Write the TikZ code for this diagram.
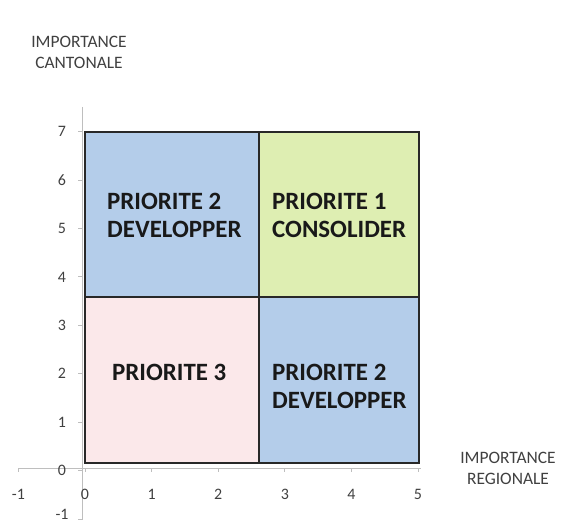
\documentclass[tikz,border=0pt]{standalone}
\usepackage{fontspec}
\setmainfont{Carlito}
\definecolor{boxblue}{RGB}{180,205,234}
\definecolor{boxgreen}{RGB}{222,238,178}
\definecolor{boxpink}{RGB}{251,232,234}
\definecolor{axisgray}{RGB}{190,190,190}
\definecolor{labgray}{RGB}{64,64,64}
\definecolor{edge}{RGB}{40,40,40}
\begin{document}
\begin{tikzpicture}[x=1bp,y=-1bp,
  quad/.style={draw=edge,line width=1.6bp},
  quadtext/.style={font=\fontsize{25}{28}\selectfont\bfseries,text=black!90,align=left,anchor=west,inner sep=0pt},
  axtitle/.style={font=\fontsize{17.5}{21}\selectfont,text=labgray,align=center,inner sep=0pt},
  ticklab/.style={font=\fontsize{16}{18}\selectfont,text=labgray,inner sep=0pt},
  axisline/.style={draw=axisgray,line width=1bp}]
\useasboundingbox (0,0) rectangle (569,524);
% axes
\coordinate (xa) at (18,468);
\coordinate (xb) at (421,468);
\coordinate (ya) at (82.5,107);
\coordinate (yb) at (82.5,519);
\draw[axisline] (xa) -- (xb);
\draw[axisline] (ya) -- (yb);
\foreach \v in {-1,0,1,2,3,4,5}{
  \draw[axisline] ({85+66.6*\v},468) -- ({85+66.6*\v},472);
  \node[ticklab] (xl\v) at ({85+66.6*\v},494) {\v};
}
\foreach \v in {0,1,2,3,4,5,6,7}{
  \draw[axisline] (78,{470.5-48.4*\v}) -- (82.5,{470.5-48.4*\v});
  \node[ticklab] (yl\v) at (62,{470.5-48.4*\v}) {\v};
}
\draw[axisline] (78,519) -- (82.5,519);
\node[ticklab] (ylm) at (62,514) {-1};
% quadrants
\path[quad,fill=boxblue]  (85,132) rectangle (259,297);
\path[quad,fill=boxgreen] (259,132) rectangle (419,297);
\path[quad,fill=boxpink]  (85,297) rectangle (259,463);
\path[quad,fill=boxblue]  (259,297) rectangle (419,463);
\node[quadtext] (q1) at (107,215) {PRIORITE 2\\DEVELOPPER};
\node[quadtext] (q2) at (272,215) {PRIORITE 1\\CONSOLIDER};
\node[quadtext] (q3) at (112,372) {PRIORITE 3};
\node[quadtext] (q4) at (272,386) {PRIORITE 2\\DEVELOPPER};
% axis titles
\node[axtitle] (yt) at (79,52) {IMPORTANCE\\CANTONALE};
\node[axtitle] (xt) at (508,468) {IMPORTANCE\\REGIONALE};
\end{tikzpicture}
\end{document}
